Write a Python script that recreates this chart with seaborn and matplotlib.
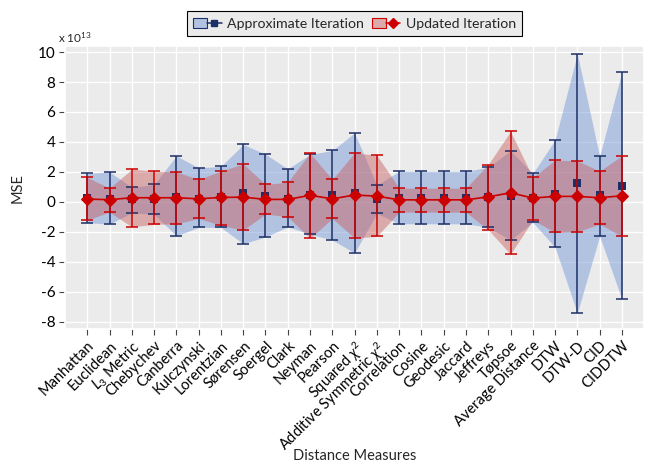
import numpy as np
import matplotlib
matplotlib.use("Agg")
import matplotlib.pyplot as plt
import seaborn as sns
from matplotlib.patches import Patch
from matplotlib.lines import Line2D
from matplotlib.legend_handler import HandlerTuple

# Distance measures on the x axis
measures = [
    "Manhattan", "Euclidean", r"$L_3$ Metric", "Chebychev", "Canberra",
    "Kulczynski", "Lorentzian", "Sørensen", "Soergel", "Clark", "Neyman",
    "Pearson", r"Squared $\chi^2$", r"Additive Symmetric $\chi^2$",
    "Correlation", "Cosine", "Geodesic", "Jaccard", "Jeffreys", "Tøpsoe",
    "Average Distance", "DTW", "DTW-D", "CID", "CIDDTW",
]

# MSE statistics, in units of 1e13
approx_mean = [0.23, 0.16, 0.16, 0.16, 0.33, 0.20, 0.29, 0.56, 0.38, 0.20, 0.43,
               0.45, 0.60, 0.16, 0.27, 0.27, 0.27, 0.27, 0.33, 0.38, 0.25, 0.51,
               1.27, 0.43, 1.07]
approx_upper = [1.89, 2.00, 0.96, 1.16, 3.07, 2.27, 2.36, 3.83, 3.18, 2.20, 3.16,
                3.43, 4.60, 1.11, 2.03, 2.03, 2.03, 2.03, 2.31, 3.41, 1.89, 4.13,
                9.89, 3.03, 8.69]
approx_lower = [-1.40, -1.49, -0.73, -0.84, -2.27, -1.71, -1.71, -2.80, -2.35, -1.67,
                -2.17, -2.55, -3.42, -0.77, -1.47, -1.47, -1.47, -1.47, -1.71, -2.55,
                -1.37, -3.04, -7.44, -2.29, -6.51]

updated_mean = [0.18, 0.14, 0.27, 0.27, 0.27, 0.20, 0.29, 0.31, 0.16, 0.16, 0.43,
                0.20, 0.45, 0.38, 0.13, 0.13, 0.13, 0.13, 0.33, 0.60, 0.25, 0.36,
                0.36, 0.27, 0.40]
updated_upper = [1.63, 0.91, 2.18, 2.05, 2.00, 1.49, 2.05, 2.53, 1.16, 1.31, 3.25,
                 1.49, 3.27, 3.11, 0.91, 0.91, 0.91, 0.91, 2.49, 4.70, 1.63, 2.78,
                 2.73, 2.05, 3.07]
updated_lower = [-1.22, -0.69, -1.67, -1.51, -1.47, -1.11, -1.57, -1.89, -0.82, -1.00,
                 -2.44, -1.11, -2.42, -2.31, -0.69, -0.69, -0.69, -0.69, -1.87, -3.50,
                 -1.22, -2.04, -2.00, -1.49, -2.31]

y_ticks = [-8, -6, -4, -2, 0, 2, 4, 6, 8, 10]

NAVY = "#1c2f66"
BLUE_FILL = "#7a9bd8"
RED = "#cc0000"
RED_FILL = "#c75a5a"

sns.set_theme(style="darkgrid", rc={
    "axes.facecolor": "#ebebeb",
    "grid.color": "white",
    "grid.linewidth": 1.0,
    "xtick.bottom": True,
    "ytick.left": True,
})
plt.rcParams["font.family"] = ["Lato", "DejaVu Sans"]
plt.rcParams["mathtext.fontset"] = "custom"
plt.rcParams["mathtext.rm"] = "Lato"
plt.rcParams["mathtext.it"] = "Lato:italic"

fig, ax = plt.subplots(figsize=(6.5, 4.66), dpi=100)
fig.subplots_adjust(left=0.1, right=0.991, top=0.901, bottom=0.294)

x = np.arange(len(measures))
a_mean, a_up, a_lo = map(np.asarray, (approx_mean, approx_upper, approx_lower))
u_mean, u_up, u_lo = map(np.asarray, (updated_mean, updated_upper, updated_lower))

# shaded ranges
ax.fill_between(x, a_lo, a_up, color=BLUE_FILL, alpha=0.5, lw=0, zorder=1)
ax.fill_between(x, u_lo, u_up, color=RED_FILL, alpha=0.45, lw=0, zorder=2)

# approximate iteration: error bars and square markers
ax.errorbar(x, a_mean, yerr=[a_mean - a_lo, a_up - a_mean], fmt="none",
            ecolor=NAVY, elinewidth=1.1, capsize=4, capthick=1.1, zorder=3)
sns.scatterplot(x=x, y=a_mean, marker="s", s=32, color=NAVY, edgecolor=NAVY,
                linewidth=0, ax=ax, zorder=4, legend=False)

# updated iteration: error bars, line and diamond markers
ax.errorbar(x, u_mean, yerr=[u_mean - u_lo, u_up - u_mean], fmt="none",
            ecolor=RED, elinewidth=1.1, capsize=4, capthick=1.1, zorder=5)
sns.lineplot(x=x, y=u_mean, color=RED, lw=1.2, marker="D", markersize=6.5,
             markeredgecolor=RED, ax=ax, zorder=6, legend=False)

ax.set_xlim(-1, 25)
ax.set_ylim(-8.5, 10.4)
ax.set_yticks(y_ticks)
ax.set_yticklabels([str(t) for t in y_ticks], fontsize=11)
ax.set_xticks(x)
ax.set_xticklabels(measures, rotation=45, ha="right", va="top",
                   rotation_mode="anchor", fontsize=10.5)
ax.tick_params(axis="both", length=4, width=0.8, color="#444444", pad=3,
               labelcolor="black")
ax.grid(True, which="major", color="white", lw=1.0)

ax.set_ylabel("MSE", fontsize=10.5)
ax.set_xlabel("Distance Measures", fontsize=10.5)
ax.yaxis.set_label_coords(-0.07, 0.5)
ax.xaxis.set_label_coords(0.5, -0.425)

ax.text(-0.012, 1.004, r"x $10^{13}$", transform=ax.transAxes, ha="left",
        va="bottom", fontsize=8.5)

# legend handles combine the band, the line and the marker
h_approx = (Patch(facecolor="#b2c3e1", edgecolor=NAVY, lw=0.8),
            Line2D([], [], color=NAVY, lw=1.1, marker="s", markersize=5))
h_updated = (Patch(facecolor="#dbaaaa", edgecolor=RED, lw=0.8),
             Line2D([], [], color=RED, lw=1.1, marker="D", markersize=5))
leg = ax.legend([h_approx, h_updated], ["Approximate Iteration", "Updated Iteration"],
                handler_map={tuple: HandlerTuple(ndivide=None, pad=0)},
                loc="lower center", bbox_to_anchor=(0.5, 1.036), ncol=2,
                frameon=True, fancybox=False, framealpha=1, edgecolor="black",
                fontsize=10.2, borderaxespad=0, handlelength=2.0, handletextpad=0.4,
                columnspacing=0.55, borderpad=0.45)
leg.get_frame().set_linewidth(0.8)

fig.savefig("out.png", dpi=100, facecolor="white")
